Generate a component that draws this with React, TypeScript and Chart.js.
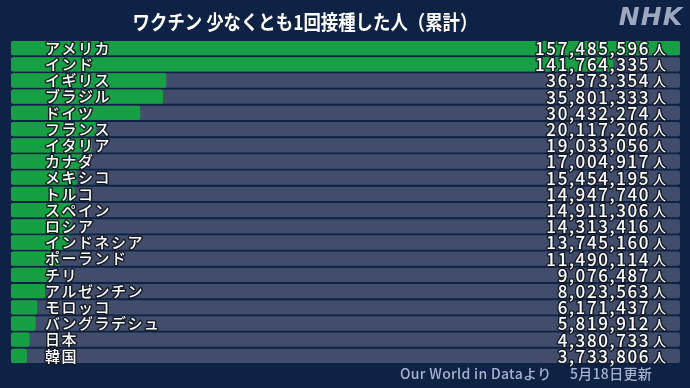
import React, { useEffect, useRef } from "react";
import { Chart, registerables } from "chart.js";

Chart.register(...registerables);

const countries = [
  "アメリカ", "インド", "イギリス", "ブラジル", "ドイツ", "フランス", "イタリア", "カナダ",
  "メキシコ", "トルコ", "スペイン", "ロシア", "インドネシア", "ポーランド", "チリ",
  "アルゼンチン", "モロッコ", "バングラデシュ", "日本", "韓国",
];
const vaccinated = [
  157485596, 141764335, 36573354, 35801333, 30432274, 20117206, 19033056, 17004917,
  15454195, 14947740, 14911306, 14313416, 13745160, 11490114, 9076487,
  8023563, 6171437, 5819912, 4380733, 3733806,
];
const title = "ワクチン 少なくとも1回接種した人（累計）";
const unit = "人";
const sourceText = "Our World in Dataより";
const updatedText = "5月18日更新";
const logoText = "NHK";

const BG = "#0e2245";
const TRACK = "#414d6b";
const GREEN = "#17a043";

const JP = '"Noto Sans CJK JP", "Noto Sans", sans-serif';

export default function App() {
  const ref = useRef<HTMLCanvasElement | null>(null);

  useEffect(() => {
    const canvas = ref.current;
    if (!canvas) return;
    const maxV = Math.max(...vaccinated);

    const decor = {
      id: "decor",
      beforeDraw(chart: any) {
        const ctx = chart.ctx;
        ctx.save();
        ctx.fillStyle = BG;
        ctx.fillRect(0, 0, chart.width, chart.height);
        ctx.restore();
      },
      afterDatasetsDraw(chart: any) {
        const ctx = chart.ctx;
        const yScale = chart.scales.y;
        ctx.save();
        ctx.lineJoin = "round";
        countries.forEach((name, i) => {
          const y = yScale.getPixelForValue(i);
          // name
          ctx.font = `500 15px ${JP}`;
          (ctx as any).letterSpacing = "1.5px";
          ctx.textAlign = "left";
          ctx.textBaseline = "middle";
          ctx.lineWidth = 3;
          ctx.strokeStyle = "rgba(20,24,36,0.9)";
          ctx.strokeText(name, 45, y);
          ctx.fillStyle = "#ffffff";
          ctx.fillText(name, 45, y);
          // value
          const txt = vaccinated[i].toLocaleString("en-US");
          ctx.font = `500 17px ${JP}`;
          (ctx as any).letterSpacing = "1.6px";
          ctx.textAlign = "right";
          ctx.strokeText(txt, 650, y + 0.5);
          ctx.fillText(txt, 650, y + 0.5);
          ctx.font = `500 13px ${JP}`;
          (ctx as any).letterSpacing = "0px";
          ctx.textAlign = "left";
          ctx.strokeText(unit, 653, y + 1);
          ctx.fillText(unit, 653, y + 1);
        });
        // title (slightly condensed)
        ctx.save();
        ctx.translate(305, 22);
        ctx.scale(0.87, 1);
        ctx.font = `bold 20px ${JP}`;
        (ctx as any).letterSpacing = "0px";
        ctx.textAlign = "center";
        ctx.textBaseline = "middle";
        ctx.fillStyle = "#ffffff";
        ctx.fillText(title, 0, 0);
        ctx.restore();
        // logo
        ctx.font = `italic 900 25px "DejaVu Sans", sans-serif`;
        (ctx as any).letterSpacing = "1px";
        ctx.textAlign = "right";
        ctx.textBaseline = "middle";
        ctx.fillStyle = "#9ea7bd";
        ctx.fillText(logoText, 683, 18);
        // footer
        ctx.font = `500 14px ${JP}`;
        (ctx as any).letterSpacing = "0.3px";
        ctx.fillStyle = "#a7b3cc";
        ctx.textAlign = "left";
        ctx.fillText(sourceText, 400, 374);
        ctx.fillText(updatedText, 570, 374);
        ctx.restore();
      },
    };

    const chart = new Chart(canvas, {
      type: "bar",
      data: {
        labels: countries,
        datasets: [
          {
            data: vaccinated,
            backgroundColor: GREEN,
            borderRadius: 2,
            borderSkipped: false,
            grouped: false,
            categoryPercentage: 1,
            barPercentage: 0.88,
          } as any,
          {
            data: countries.map(() => maxV),
            backgroundColor: TRACK,
            borderRadius: 2,
            borderSkipped: false,
            grouped: false,
            categoryPercentage: 1,
            barPercentage: 0.88,
          } as any,
        ],
      },
      options: {
        indexAxis: "y",
        animation: false,
        responsive: false,
        maintainAspectRatio: false,
        layout: { padding: { left: 11, right: 10, top: 40, bottom: 24 } },
        plugins: {
          legend: { display: false },
          tooltip: { enabled: false },
          title: { display: false },
        },
        scales: {
          x: { display: false, min: 0, max: maxV },
          y: { display: false, offset: true },
        },
      },
      plugins: [decor],
    });
    return () => chart.destroy();
  }, []);

  return (
    <div style={{ position: "fixed", left: 0, top: 0, width: 690, height: 388, background: BG }}>
      <canvas ref={ref} width={690} height={388} style={{ display: "block", width: 690, height: 388 }} />
    </div>
  );
}
